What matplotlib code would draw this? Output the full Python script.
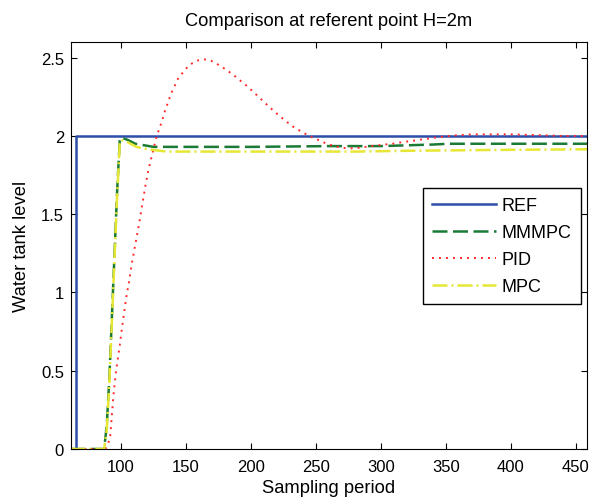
import matplotlib
matplotlib.use("Agg")
import matplotlib.pyplot as plt

plt.rcParams['font.family'] = ['Liberation Sans', 'DejaVu Sans']

# reference step
ref_x = [61, 65, 65, 460]
ref_y = [0, 0, 2, 2]

# multi-model MPC response
mmmpc_x = [61, 87, 89, 91, 93, 95, 97, 99, 100, 105, 111, 118, 125, 200, 260, 300, 320, 340, 352, 460]
mmmpc_y = [0, 0, 0.15, 0.45, 0.85, 1.25, 1.65, 1.97, 1.99, 1.975, 1.95, 1.94, 1.93, 1.93, 1.935, 1.935, 1.94, 1.945, 1.95, 1.95]

# PID response
pid_x = [61, 88, 91.5, 92.8, 94.1, 96.2, 98.5, 100.5, 102.5, 104.4, 106.4, 108.2, 110.8, 113.3,
         115.9, 118.5, 121, 123.6, 127.5, 131.3, 133.8, 138.5, 144.1, 152.1, 157.9, 163.6, 169.2,
         174.8, 180.5, 186.4, 191.5, 196.7, 201.3, 206.4, 211.5, 216.7, 222.3, 227.5, 233.1, 241.5,
         247.2, 253.1, 258.2, 263.8, 269.8, 274.8, 280.8, 286.4, 291.5, 297.9, 303.1, 308.7, 314.1,
         319.8, 325.4, 330.8, 336.4, 342.1, 347.9, 353.1, 358.2, 369.8, 400, 420, 440, 460]
pid_y = [0, 0, 0.064, 0.2, 0.34, 0.5, 0.63, 0.76, 0.88, 0.99, 1.08, 1.18, 1.3, 1.41,
         1.54, 1.67, 1.78, 1.87, 2.0, 2.09, 2.16, 2.27, 2.37, 2.45, 2.48, 2.49, 2.48,
         2.455, 2.425, 2.39, 2.355, 2.32, 2.285, 2.245, 2.205, 2.165, 2.125, 2.09, 2.055, 2.015,
         1.99, 1.97, 1.95, 1.935, 1.925, 1.92, 1.922, 1.928, 1.934, 1.94, 1.945, 1.95, 1.957,
         1.964, 1.97, 1.977, 1.983, 1.99, 1.995, 2.0, 2.004, 2.01, 2.01, 2.005, 2.0, 2.0]

# single-model MPC response
mpc_x = [61, 87, 89, 91, 93, 95, 97, 99, 100, 105, 112, 117, 125, 135, 200, 280, 320, 380, 460]
mpc_y = [0, 0, 0.12, 0.42, 0.82, 1.22, 1.62, 1.95, 1.975, 1.96, 1.93, 1.92, 1.91, 1.9, 1.9, 1.9, 1.905, 1.91, 1.915]

fig = plt.figure(figsize=(5.91, 5.02), dpi=100)
ax = fig.add_axes([71 / 591, 52 / 502, 516 / 591, 407 / 502])

ax.plot(ref_x, ref_y, color='#2c4ea8', lw=1.8, label='REF')
ax.plot(mmmpc_x, mmmpc_y, color='#1a7a36', lw=1.8, linestyle=(0, (6, 2.2)), label='MMMPC')
ax.plot(pid_x, pid_y, color='#ff2a2a', lw=1.4, linestyle=(0, (1, 2.6)), label='PID')
ax.plot(mpc_x, mpc_y, color='#e6e634', lw=1.8, linestyle=(0, (6, 1.6, 0.8, 1.6)), label='MPC')

ax.set_xlim(61.5, 458.5)
ax.set_ylim(0, 2.6)
ax.set_xticks([100, 150, 200, 250, 300, 350, 400, 450])
ax.set_yticks([0, 0.5, 1, 1.5, 2, 2.5])
ax.set_yticklabels(['0', '0.5', '1', '1.5', '2', '2.5'])
ax.tick_params(direction='in', length=4, top=True, right=True, labelsize=12)
ax.tick_params(axis='x', pad=7)
ax.tick_params(axis='y', pad=5)

ax.set_xlabel('Sampling period', fontsize=13.2, labelpad=4)
ax.set_ylabel('Water tank level', fontsize=13.2, labelpad=8)
ax.set_title('Comparison at referent point H=2m', fontsize=13.2, pad=12)

ax.legend(loc='upper right', bbox_to_anchor=(0.988, 0.641), fontsize=13,
          handlelength=3.5, handletextpad=0.35, labelspacing=0.55,
          fancybox=False, framealpha=1, edgecolor='black', borderpad=0.5,
          borderaxespad=0)

fig.savefig('out.png', dpi=100)
